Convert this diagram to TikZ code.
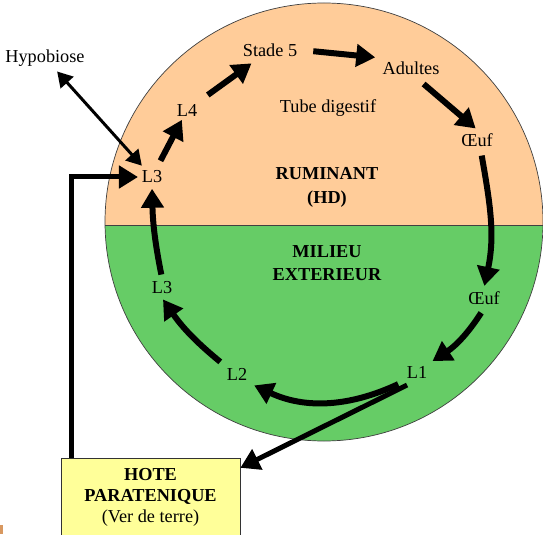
\documentclass[tikz,border=0pt]{standalone}
\usepackage{fontspec}
\setmainfont{Liberation Serif}
\usetikzlibrary{arrows.meta,positioning,calc}
\definecolor{Peach}{HTML}{FFCC99}
\definecolor{Grass}{HTML}{66CC66}
\definecolor{Paper}{HTML}{FFFF99}
\definecolor{Rust}{HTML}{D89860}

\tikzset{
  lbl/.style={font=\fontsize{10.4}{13}\selectfont,inner sep=2pt},
  title/.style={font=\fontsize{10.4}{14}\selectfont\bfseries,align=center,inner sep=1pt},
  cycle/.style={line width=0.12cm,-{Triangle[length=0.38cm,width=0.44cm]}},
  hypo/.style={line width=0.06cm,{Triangle[length=0.3cm,width=0.34cm]}-{Triangle[length=0.3cm,width=0.34cm]}},
  host/.style={line width=0.1cm,-{Triangle[length=0.38cm,width=0.44cm]}}
}

\begin{document}
\begin{tikzpicture}[x=0.02cm,y=0.02cm]
        \useasboundingbox (0,0) rectangle (543,534);
        % the two halves of the host circle
        \begin{scope}
          \clip (324,312) circle (219);
          \fill[Peach] (100,309) rectangle (550,540);
          \fill[Grass] (100,309) rectangle (550,80);
        \end{scope}
        \draw[black!75] (324,312) circle (219);
        \draw[black!75] (105,309) -- (543,309);
        \fill[Rust] (0,0) rectangle (3,9);

        % stages
        \node[lbl] (hyp) at (45,476) {Hypobiose};
        \node[lbl] (st5) at (270,484) {Stade 5};
        \node[lbl] (adu) at (411,466) {Adultes};
        \node[lbl] (tube) at (328,426) {Tube digestif};
        \node[lbl] (l4) at (187,424) {L4};
        \node[lbl] (oeufa) at (477,394) {Œuf};
        \node[lbl] (l3a) at (152,357) {L3};
        \node[title] (rum) at (327,346.5) {RUMINANT\\(HD)};
        \node[title,font=\fontsize{10.4}{13}\selectfont\bfseries] (mil) at (327,270.5) {MILIEU\\EXTERIEUR};
        \node[lbl] (oeufb) at (484,236) {Œuf};
        \node[lbl] (l3b) at (162,246) {L3};
        \node[lbl] (l1) at (417,162) {L1};
        \node[lbl] (l2) at (237,160) {L2};
        \node[draw=black!80,fill=Paper,minimum width=179*0.02cm,minimum height=78*0.02cm,
              align=center,font=\fontsize{10.4}{12}\selectfont,inner sep=0pt]
              (hote) at (150.5,37) {\textbf{HOTE}\\\textbf{PARATENIQUE}\\(Ver de terre)};

        % cycle in the ruminant
        \draw[hypo,shorten <=1pt,shorten >=1pt] (hyp) -- (l3a);
        \draw[cycle,shorten <=4pt] (l3a) -- (l4);
        \draw[cycle,shorten <=5pt,shorten >=3pt] (l4) -- (st5);
        \draw[cycle,shorten <=7pt,shorten >=2pt] (st5.east) -- (adu.north west);
        \draw[cycle,shorten <=5pt,shorten >=1pt] (adu.-60) -- (oeufa.north);
        \draw[cycle,shorten <=3pt,shorten >=1pt] (oeufa.-70) to[out=-80,in=78] (oeufb.north);
        % cycle outside
        \draw[cycle,shorten <=3pt,shorten >=1pt] (oeufb.south) to[bend left=12] (l1.north east);
        \draw[cycle,shorten <=3pt,shorten >=2pt] (l1.south west) to[out=205,in=-25] (l2.south east);
        \draw[cycle,shorten <=2pt,shorten >=1pt] (l2.north west) to[bend left=8] (l3b.south);
        \draw[cycle,shorten <=2pt,shorten >=1pt] (l3b.north) to[bend left=5] (l3a.south);
        % paratenic host
        \draw[host,shorten <=4pt] (l1.-110) -- (hote.18);
        \draw[host] ([xshift=11*0.02cm]hote.north west) |- (l3a.west);
      \end{tikzpicture}
\end{document}
